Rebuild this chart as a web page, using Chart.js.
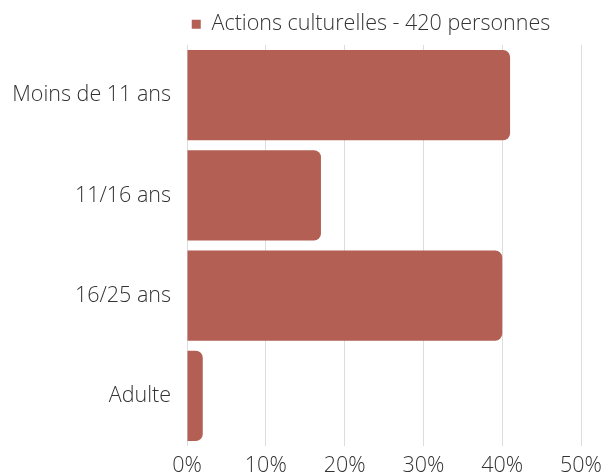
<!DOCTYPE html>
<html>
<head>
<meta charset="utf-8">
<script src="https://cdn.jsdelivr.net/npm/chart.js@4"></script>
<style>
html,body{margin:0;padding:0;background:#fff;}
#wrap{width:602px;height:476px;position:relative;}
</style>
</head>
<body>
<div id="wrap"><canvas id="c" width="602" height="476"></canvas></div>
<script>
const categories = ["Moins de 11 ans", "11/16 ans", "16/25 ans", "Adulte"];
const seriesLabel = "Actions culturelles - 420 personnes";
const values = [41, 17, 40, 2];
const tickMax = 50;
const tickStep = 10;

Chart.defaults.font.family = "'Open Sans', sans-serif";
Chart.defaults.font.weight = 300;
Chart.defaults.color = "#333";

const shiftLegend = {
  id: "shiftLegend",
  afterLayout(chart) {
    const lg = chart.legend;
    if (lg) { lg.left += 70; lg.right += 70; }
  }
};

new Chart(document.getElementById("c"), {
  type: "bar",
  data: {
    labels: categories,
    datasets: [{
      label: seriesLabel,
      data: values,
      backgroundColor: "#b35f53",
      borderRadius: 7,
      borderSkipped: "start",
      barPercentage: 0.9,
      categoryPercentage: 1.0
    }]
  },
  plugins: [shiftLegend],
  options: {
    indexAxis: "y",
    responsive: false,
    animation: false,
    devicePixelRatio: 1,
    layout: { padding: { left: 0, right: 0, top: 1.5, bottom: 0 } },
    plugins: {
      legend: {
        position: "top",
        labels: {
          boxWidth: 9, boxHeight: 9,
          font: { size: 21.5, weight: 300 },
          color: "#333",
          padding: 12
        }
      },
      tooltip: { enabled: false }
    },
    scales: {
      x: {
        min: 0, max: tickMax,
        afterFit: s => { s.height = 30; s.paddingRight = 21; },
        ticks: {
          stepSize: tickStep,
          callback: v => v + "%",
          font: { size: 21.5, weight: 300 },
          color: "#333",
          padding: 7
        },
        grid: { color: "#dddddd", drawTicks: false, tickLength: 0 },
        border: { display: false }
      },
      y: {
        afterFit: s => { s.width = 187; },
        ticks: { font: { size: 21.5, weight: 300 }, color: "#333", padding: 16 },
        grid: { display: false, drawTicks: false, tickLength: 0 },
        border: { display: false }
      }
    }
  }
});
</script>
</body>
</html>
